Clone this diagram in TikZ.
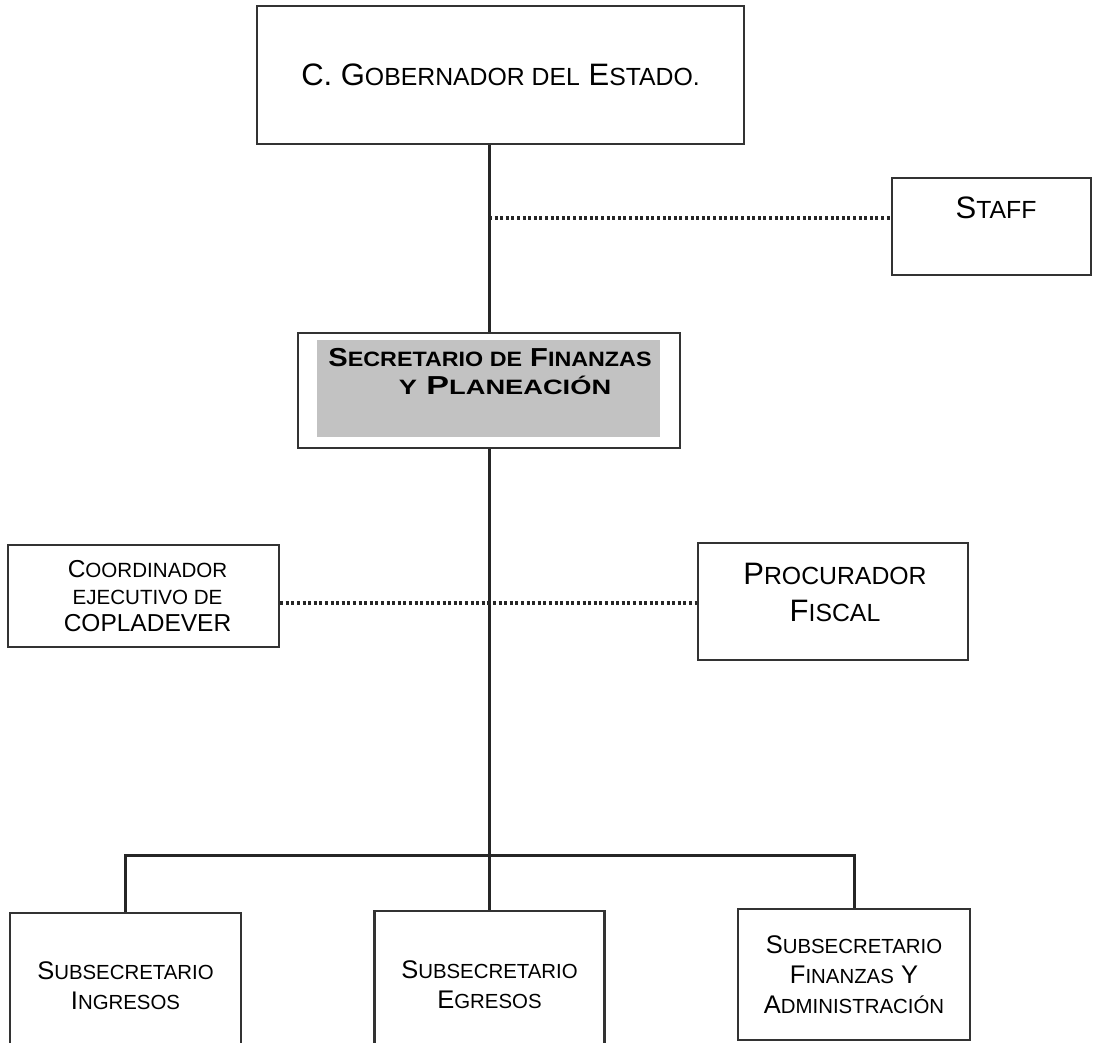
\documentclass[tikz,border=0pt]{standalone}
\usepackage{fontspec}
\setmainfont{Liberation Sans}
\newfontfamily\secfont{Liberation Sans}[FakeStretch=1.12]
\usetikzlibrary{positioning,calc}

% small capitals made by hand: rest of the word at \smratio of the size
\newcommand\smratio{0.8}
\makeatletter
\newcommand\sm[1]{{\fontsize{\fpeval{\smratio*\f@size}}{\f@baselineskip}\selectfont #1}}
\makeatother

\tikzset{
    box/.style={draw=black!80, line width=2.2pt, rectangle, inner sep=0pt, align=center},
    boxtext/.style={inner sep=0pt, align=center},
    link/.style={draw=black!85, line width=3pt},
    dotline/.style={draw=black!85, line width=3.2pt, dash pattern=on 3pt off 2.6pt},
}

\begin{document}
\begin{tikzpicture}[x=1pt,y=1pt,yscale=-1]
        \fill[white] (0,0) rectangle (1093,1043);
        \useasboundingbox (0,0) rectangle (1093,1043);
        \clip (0,0) rectangle (1093,1043);
        % Gobernador
        \node[box, minimum width=487pt, minimum height=138pt, font=\fontsize{31}{37}\selectfont] (gob) at (500.5,75)
            {C. G\sm{OBERNADOR DEL} E\sm{STADO.}};
        % Staff
        \node[box, minimum width=199pt, minimum height=97pt] (staff) at (991.5,226.5) {};
        \node[boxtext, font=\fontsize{31}{37}\selectfont] (stafftext) at (996,208) {S\sm{TAFF}};
        % Secretario (shaded)
        \fill[black!24] (317,340) rectangle (660,437);
        \node[box, minimum width=382pt, minimum height=115pt] (sec) at (489,390.5) {};
        \node[boxtext, font=\secfont\bfseries\fontsize{26}{28}\selectfont] (sectext) at (490,372)
            {S\sm{ECRETARIO DE} F\sm{INANZAS}\\\hspace*{30pt}\scalebox{1.17}[1]{\sm{Y} P\sm{LANEACIÓN}}};
        % Coordinador
        \node[box, minimum width=271pt, minimum height=102pt, font=\def\smratio{0.84}\fontsize{24.5}{27}\selectfont] (coord) at (143.5,596)
            {\hspace*{8pt}C\sm{OORDINADOR}\\\hspace*{8pt}\sm{EJECUTIVO DE}\\\hspace*{8pt}COPLADEVER};
        % Procurador
        \node[box, minimum width=270pt, minimum height=117pt] (proc) at (833,601.5) {};
        \node[boxtext, font=\fontsize{31}{37}\selectfont] (proctext) at (835,592) {P\sm{ROCURADOR}\\F\sm{ISCAL}};
        % Subsecretarios
        \node[box, minimum width=231pt, minimum height=145pt, font=\fontsize{25.5}{30}\selectfont] (sub1) at (125.5,985.5)
            {S\sm{UBSECRETARIO}\\I\sm{NGRESOS}};
        \node[box, minimum width=230pt, minimum height=147pt, font=\fontsize{25.5}{30}\selectfont] (sub2) at (489.5,984.5)
            {S\sm{UBSECRETARIO}\\E\sm{GRESOS}};
        \node[box, minimum width=232pt, minimum height=131pt, font=\fontsize{25.5}{30}\selectfont] (sub3) at (854,974.5)
            {S\sm{UBSECRETARIO}\\F\sm{INANZAS} Y\\A\sm{DMINISTRACIÓN}};
        % Lines
        \coordinate (bus) at (489,855);
        \draw[link] (gob.south -| sec.north) -- (sec.north);
        \draw[link] (sec.south) -- (sec.south |- sub2.north);
        \draw[link] (sub1.north) |- (bus) -| (sub3.north);
        % Dotted lines
        \coordinate (stafftap) at (489,218);
        \draw[dotline] (stafftap) -- (stafftap -| staff.west);
        \coordinate (fiscaltap) at (489,603);
        \draw[dotline] (fiscaltap -| coord.east) -- (fiscaltap -| proc.west);
\end{tikzpicture}
\end{document}
